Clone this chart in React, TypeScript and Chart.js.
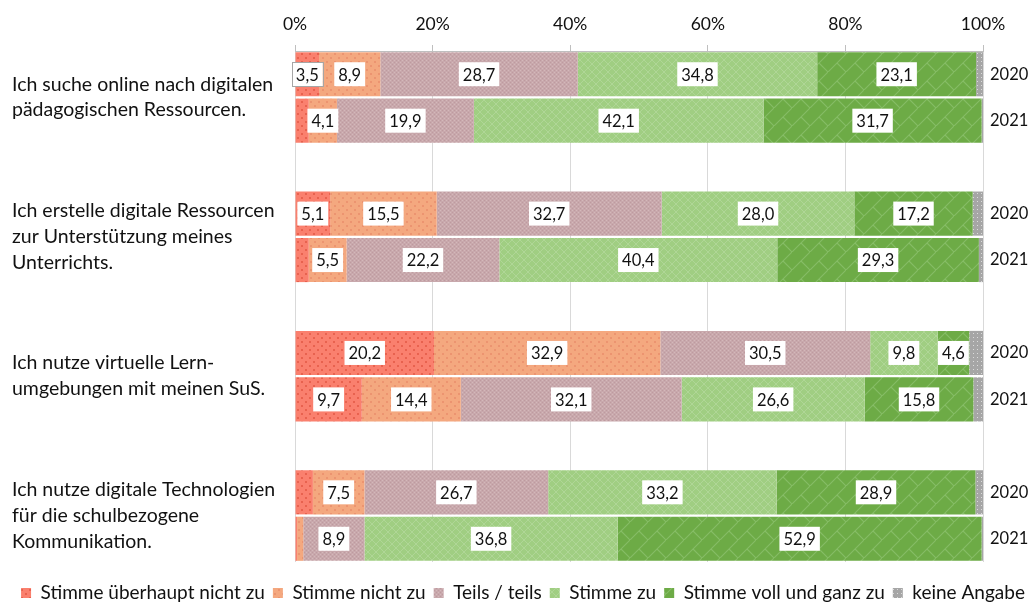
import { useEffect, useRef } from 'react';
import { Chart, registerables } from 'chart.js';

Chart.register(...registerables);

// ---- data ----
const questions: string[][] = [
  ['Ich suche online nach digitalen', 'pädagogischen Ressourcen.'],
  ['Ich erstelle digitale Ressourcen', 'zur Unterstützung meines', 'Unterrichts.'],
  ['Ich nutze virtuelle Lern-', 'umgebungen mit meinen SuS.'],
  ['Ich nutze digitale Technologien', 'für die schulbezogene', 'Kommunikation.'],
];
const years = ['2020', '2021'];
const seriesNames = [
  'Stimme überhaupt nicht zu',
  'Stimme nicht zu',
  'Teils / teils',
  'Stimme zu',
  'Stimme voll und ganz zu',
  'keine Angabe',
];
// order of bars: Q1 2020, Q1 2021, Q2 2020, Q2 2021, Q3 2020, Q3 2021, Q4 2020, Q4 2021
const ueberhauptNicht = [3.5, 2.0, 5.1, 2.0, 20.2, 9.7, 2.6, 0.3];
const nichtZu = [8.9, 4.1, 15.5, 5.5, 32.9, 14.4, 7.5, 0.9];
const teilsTeils = [28.7, 19.9, 32.7, 22.2, 30.5, 32.1, 26.7, 8.9];
const stimmeZu = [34.8, 42.1, 28.0, 40.4, 9.8, 26.6, 33.2, 36.8];
const vollUndGanz = [23.1, 31.7, 17.2, 29.3, 4.6, 15.8, 28.9, 52.9];
const keineAngabe = [1.0, 0.2, 1.5, 0.6, 2.0, 1.4, 1.1, 0.2];
const xTicks = [0, 20, 40, 60, 80, 100];
const labelThreshold = 3;

const seriesValues = [ueberhauptNicht, nichtZu, teilsTeils, stimmeZu, vollUndGanz, keineAngabe];

// ---- row structure (2020, 2021, gap) ----
const rowLeft: (string | string[])[] = [];
const rowRight: string[] = [];
const rowIndex: (number | null)[] = [];
questions.forEach((q, qi) => {
  years.forEach((y, yi) => {
    rowLeft.push(yi === 0 ? q : '');
    rowRight.push(y);
    rowIndex.push(qi * years.length + yi);
  });
  if (qi < questions.length - 1) {
    rowLeft.push('');
    rowRight.push('');
    rowIndex.push(null);
  }
});

const FONT = 'Lato, "Open Sans", sans-serif';

function makeTile(size: number, base: string, draw: (g: CanvasRenderingContext2D) => void) {
  const c = document.createElement('canvas');
  c.width = size;
  c.height = size;
  const g = c.getContext('2d')!;
  g.fillStyle = base;
  g.fillRect(0, 0, size, size);
  draw(g);
  return c;
}

function makePatterns(ctx: CanvasRenderingContext2D) {
  const red = makeTile(8, '#FA806E', (g) => {
    g.fillStyle = '#E8624F';
    g.fillRect(1, 1, 2, 2);
    g.fillRect(5, 5, 2, 2);
  });
  const orange = makeTile(8, '#F4A87F', (g) => {
    g.fillStyle = '#EC9470';
    g.fillRect(2, 1, 2, 2);
    g.fillRect(6, 5, 2, 2);
  });
  const mauve = makeTile(4, '#C8A8AC', (g) => {
    g.fillStyle = '#BE9A9F';
    g.fillRect(0, 0, 1, 1);
    g.fillRect(2, 2, 1, 1);
    g.fillStyle = '#D4B8BA';
    g.fillRect(2, 0, 1, 1);
    g.fillRect(0, 2, 1, 1);
  });
  const lightGreen = makeTile(8, '#A0CE82', (g) => {
    g.strokeStyle = '#AFD696';
    g.lineWidth = 1;
    g.beginPath();
    g.moveTo(0, 0);
    g.lineTo(8, 8);
    g.moveTo(0, 8);
    g.lineTo(8, 0);
    g.stroke();
  });
  const darkGreen = makeTile(18, '#6DAB46', (g) => {
    g.strokeStyle = '#86BD66';
    g.lineWidth = 1.1;
    g.beginPath();
    g.moveTo(0, 18);
    g.lineTo(18, 0);
    g.moveTo(9, 9);
    g.lineTo(18, 18);
    g.stroke();
  });
  const gray = makeTile(4, '#A6A6A6', (g) => {
    g.fillStyle = '#DCDCDC';
    g.fillRect(1, 1, 1, 1);
  });
  return [red, orange, mauve, lightGreen, darkGreen, gray].map((t) => ctx.createPattern(t, 'repeat')!);
}

const segmentLabels = {
  id: 'segmentLabels',
  afterDatasetsDraw(chart: any) {
    const ctx: CanvasRenderingContext2D = chart.ctx;
    ctx.save();
    ctx.font = `16.5px ${FONT}`;
    ctx.textAlign = 'center';
    ctx.textBaseline = 'middle';
    chart.data.datasets.forEach((ds: any, di: number) => {
      if (di === seriesNames.length - 1) return;
      const meta = chart.getDatasetMeta(di);
      meta.data.forEach((el: any, i: number) => {
        const v = ds.data[i];
        if (v == null || v < labelThreshold) return;
        const { x, base, y } = el.getProps(['x', 'base', 'y'], true);
        const cx = (x + base) / 2;
        const text = v.toFixed(1).replace('.', ',');
        const w = ctx.measureText(text).width + 8;
        const h = 24;
        ctx.fillStyle = '#ffffff';
        ctx.fillRect(cx - w / 2, y - h / 2, w, h);
        if (di === 0 && i === 0) {
          ctx.strokeStyle = '#a6a6a6';
          ctx.lineWidth = 1;
          ctx.strokeRect(Math.round(cx - w / 2) + 0.5, Math.round(y - h / 2) + 0.5, Math.round(w), h);
        }
        ctx.fillStyle = '#111111';
        ctx.fillText(text, cx, y + 1);
      });
    });
    ctx.restore();
  },
};

export default function App() {
  const ref = useRef<HTMLCanvasElement>(null);

  useEffect(() => {
    const canvas = ref.current!;
    const ctx = canvas.getContext('2d')!;
    const patterns = makePatterns(ctx);
    Chart.defaults.font.family = FONT;
    Chart.defaults.color = '#111111';

    const datasets = seriesNames.map((name, si) => ({
      label: name,
      data: rowIndex.map((ri) => (ri === null ? null : seriesValues[si][ri])),
      backgroundColor: patterns[si],
      borderWidth: 0,
      yAxisID: 'y',
      barPercentage: 0.95,
      categoryPercentage: 1,
    }));

    const chart = new Chart(canvas, {
      type: 'bar',
      data: { labels: rowLeft as any, datasets: datasets as any },
      options: {
        indexAxis: 'y',
        animation: false,
        responsive: false,
        layout: { padding: { left: 12, right: 0, top: 0, bottom: -9.5 } },
        scales: {
          x: {
            type: 'linear',
            position: 'top',
            stacked: true,
            min: 0,
            max: 100,
            afterBuildTicks: (s: any) => {
              s.ticks = xTicks.map((v) => ({ value: v }));
            },
            afterFit: (s: any) => {
              s.height = 51;
            },
            ticks: {
              callback: (v: any) => `${v}%`,
              padding: 10,
              maxRotation: 0,
              font: { size: 17.5 },
            },
            grid: { color: '#d9d9d9', tickLength: 6, tickColor: '#bfbfbf' },
            border: { color: '#bfbfbf' },
          },
          y: {
            type: 'category',
            position: 'left',
            stacked: true,
            offset: true,
            labels: rowLeft as any,
            afterFit: (s: any) => {
              s.width = 283;
            },
            ticks: {
              autoSkip: false,
              crossAlign: 'far',
              labelOffset: 23,
              font: { size: 19.5, lineHeight: 1.33 },
            },
            grid: { display: false, drawTicks: false, tickLength: 0 },
            border: { display: false },
          },
          y2: {
            type: 'category',
            position: 'right',
            offset: true,
            labels: rowRight,
            afterFit: (s: any) => {
              s.width = 51;
            },
            ticks: { autoSkip: false, padding: 7, font: { size: 16.5 } },
            grid: { display: false, drawTicks: false, tickLength: 0 },
            border: { display: false },
          },
        },
        plugins: {
          legend: {
            position: 'bottom',
            align: 'center',
            labels: {
              boxWidth: 10,
              boxHeight: 10,
              padding: 8,
              font: { size: 19 },
              color: '#111111',
            },
            title: { display: true, text: '', font: { size: 1 }, padding: { top: 12.3, bottom: 0 } },
          },
          tooltip: { enabled: false },
        },
      } as any,
      plugins: [segmentLabels],
    });
    return () => chart.destroy();
  }, []);

  return (
    <div style={{ position: 'absolute', left: -5, top: 0, width: 1039, height: 603 }}>
      <canvas ref={ref} width={1034} height={603} style={{ display: 'block', marginLeft: 5 }} />
    </div>
  );
}
